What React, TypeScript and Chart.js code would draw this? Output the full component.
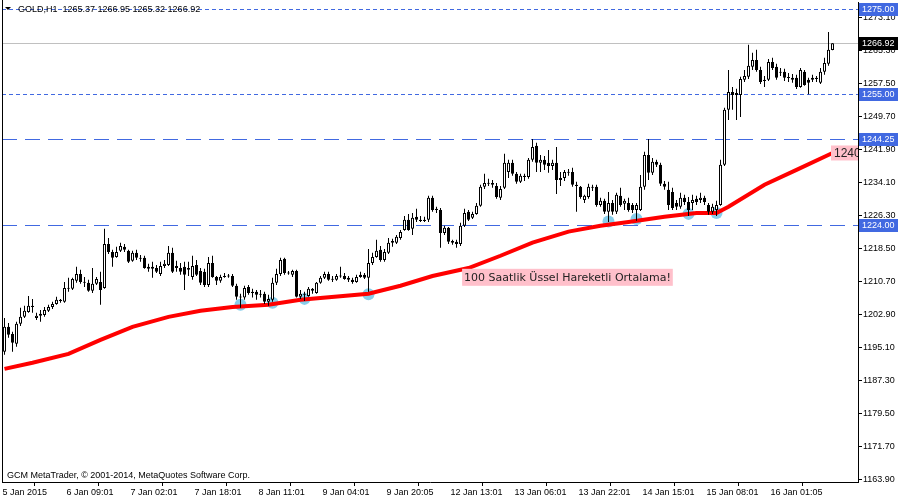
import React, { useEffect, useRef } from 'react';
import { Chart, registerables } from 'chart.js';

Chart.register(...registerables);

// ---------- DATA ----------
const opens = [
  1194.0, 1199.9, 1198.2, 1195.9, 1200.6, 1202.3, 1203.4, 1204.9, 1202.0, 1202.5,
  1202.7, 1203.7, 1204.6, 1205.3, 1206.3, 1205.8, 1209.1, 1208.9, 1210.8, 1212.4,
  1210.5, 1210.3, 1208.4, 1210.1, 1210.5, 1209.1, 1219.5, 1217.6, 1216.4, 1217.9,
  1218.8, 1217.9, 1215.5, 1217.4, 1216.2, 1216.2, 1214.1, 1213.6, 1213.8, 1212.4,
  1214.3, 1214.5, 1217.4, 1214.3, 1213.8, 1214.1, 1213.4, 1211.7, 1214.5, 1213.1,
  1212.9, 1209.8, 1215.0, 1211.7, 1210.8, 1211.7, 1211.9, 1211.9, 1209.6, 1207.0,
  1206.8, 1209.3, 1207.9, 1208.2, 1207.5, 1207.7, 1205.8, 1206.3, 1210.3, 1212.4,
  1216.0, 1212.6, 1212.2, 1213.1, 1207.0, 1207.7, 1207.2, 1208.9, 1207.9, 1210.3,
  1211.5, 1212.4, 1211.0, 1211.0, 1211.9, 1211.9, 1211.5, 1211.0, 1210.5, 1212.2,
  1212.2, 1211.5, 1215.0, 1216.4, 1218.1, 1215.7, 1217.4, 1220.2, 1219.8, 1220.9,
  1222.8, 1225.2, 1223.1, 1225.9, 1225.2, 1224.9, 1225.2, 1230.4, 1227.5, 1227.5,
  1222.1, 1223.3, 1220.2, 1220.0, 1219.5, 1223.8, 1227.1, 1225.7, 1226.6, 1228.5,
  1233.0, 1233.9, 1233.5, 1233.2, 1230.4, 1232.8, 1236.5, 1238.7, 1236.1, 1234.2,
  1235.3, 1235.3, 1239.4, 1242.7, 1238.7, 1239.4, 1238.7, 1237.9, 1238.7, 1235.1,
  1235.1, 1236.5, 1236.5, 1233.5, 1233.0, 1229.9, 1230.6, 1233.0, 1233.0, 1228.7,
  1229.7, 1227.1, 1229.2, 1227.1, 1230.9, 1229.0, 1229.2, 1228.7, 1227.5, 1227.5,
  1233.0, 1240.5, 1236.3, 1238.9, 1238.2, 1233.7, 1232.3, 1231.8, 1229.2, 1228.3,
  1230.4, 1229.4, 1229.2, 1230.2, 1229.9, 1230.4, 1228.7, 1227.1, 1227.5, 1228.7,
  1238.2, 1251.2, 1255.4, 1254.7, 1254.7, 1258.3, 1259.0, 1261.4, 1263.0, 1260.6,
  1258.0, 1258.3, 1262.5, 1261.4, 1260.2, 1260.2, 1258.8, 1258.8, 1258.8, 1256.6,
  1260.2, 1258.3, 1258.3, 1258.8, 1257.6, 1260.2, 1262.1, 1265.37,
];

const highs = [
  1202.0, 1200.8, 1198.7, 1201.1, 1204.4, 1204.9, 1207.2, 1206.5, 1203.2, 1203.9,
  1204.6, 1205.1, 1205.8, 1207.0, 1206.5, 1210.5, 1211.5, 1211.5, 1214.1, 1213.4,
  1211.7, 1211.0, 1213.8, 1211.7, 1212.9, 1223.1, 1220.9, 1218.1, 1218.8, 1219.8,
  1219.5, 1218.1, 1217.9, 1218.1, 1216.9, 1216.7, 1214.8, 1215.3, 1214.5, 1215.3,
  1215.7, 1219.0, 1218.6, 1215.5, 1215.0, 1215.3, 1215.3, 1216.7, 1215.7, 1213.8,
  1213.6, 1216.4, 1216.7, 1211.9, 1212.2, 1212.6, 1212.4, 1212.4, 1210.1, 1207.7,
  1209.6, 1209.8, 1208.9, 1208.6, 1208.6, 1208.2, 1207.5, 1211.5, 1213.6, 1216.2,
  1216.2, 1213.1, 1213.4, 1213.4, 1208.6, 1208.2, 1209.3, 1209.1, 1210.5, 1211.9,
  1212.9, 1212.9, 1211.9, 1212.4, 1214.1, 1212.6, 1211.9, 1211.5, 1212.2, 1212.9,
  1212.6, 1218.3, 1217.4, 1220.5, 1219.0, 1218.3, 1220.9, 1220.7, 1221.6, 1222.8,
  1226.1, 1226.6, 1226.8, 1227.8, 1226.1, 1225.9, 1230.9, 1230.9, 1228.3, 1228.0,
  1223.8, 1223.5, 1220.5, 1220.5, 1224.5, 1227.8, 1227.5, 1227.1, 1229.2, 1233.5,
  1236.1, 1234.9, 1234.6, 1233.9, 1233.2, 1240.8, 1239.4, 1239.4, 1236.5, 1236.1,
  1236.1, 1239.8, 1244.3, 1243.4, 1240.5, 1240.3, 1241.7, 1239.4, 1242.4, 1236.5,
  1237.0, 1237.2, 1237.5, 1234.2, 1233.2, 1231.1, 1233.7, 1233.5, 1233.5, 1230.4,
  1230.2, 1231.8, 1229.9, 1231.6, 1232.8, 1230.2, 1230.4, 1229.2, 1229.2, 1235.8,
  1241.3, 1244.3, 1239.8, 1239.4, 1238.7, 1234.4, 1234.2, 1232.8, 1229.9, 1231.6,
  1231.1, 1230.6, 1231.1, 1230.9, 1231.6, 1230.9, 1229.2, 1229.0, 1229.7, 1239.4,
  1251.7, 1260.6, 1256.6, 1256.2, 1259.0, 1260.6, 1266.6, 1264.7, 1265.4, 1261.4,
  1259.2, 1263.2, 1263.5, 1262.1, 1261.1, 1260.9, 1259.9, 1259.7, 1259.5, 1261.1,
  1260.6, 1258.8, 1259.5, 1259.2, 1261.1, 1263.5, 1269.6, 1266.95,
];

const lows = [
  1193.3, 1197.3, 1194.0, 1195.2, 1200.1, 1202.0, 1203.2, 1203.2, 1201.5, 1201.1,
  1202.3, 1203.4, 1204.1, 1205.1, 1205.6, 1205.6, 1208.2, 1208.6, 1210.3, 1210.1,
  1209.3, 1208.2, 1207.9, 1209.8, 1205.1, 1208.9, 1217.1, 1214.1, 1216.2, 1217.6,
  1217.6, 1215.0, 1215.3, 1215.7, 1215.3, 1213.6, 1212.9, 1211.5, 1212.6, 1211.9,
  1213.8, 1214.3, 1212.6, 1212.9, 1212.2, 1208.6, 1211.9, 1211.0, 1211.9, 1209.8,
  1209.3, 1209.3, 1211.5, 1209.8, 1210.3, 1211.5, 1211.5, 1209.3, 1206.3, 1204.4,
  1206.3, 1207.5, 1206.8, 1206.3, 1206.8, 1205.3, 1204.9, 1205.8, 1209.8, 1211.9,
  1212.2, 1212.2, 1211.7, 1206.8, 1206.5, 1206.0, 1207.0, 1207.7, 1207.7, 1210.1,
  1211.2, 1210.8, 1210.5, 1210.8, 1211.5, 1211.0, 1210.5, 1210.1, 1210.3, 1211.5,
  1211.2, 1208.2, 1214.5, 1216.2, 1215.3, 1215.3, 1217.1, 1218.8, 1219.5, 1220.5,
  1222.6, 1222.6, 1221.6, 1224.7, 1224.7, 1224.7, 1224.7, 1227.1, 1226.8, 1218.6,
  1221.6, 1219.5, 1219.3, 1218.6, 1219.0, 1223.5, 1224.9, 1225.4, 1226.4, 1228.3,
  1232.5, 1233.2, 1232.8, 1230.2, 1229.9, 1232.5, 1235.1, 1235.6, 1233.7, 1233.9,
  1234.4, 1234.9, 1238.9, 1236.5, 1236.5, 1237.0, 1236.3, 1237.0, 1231.3, 1233.2,
  1234.4, 1235.6, 1233.0, 1227.1, 1230.2, 1229.2, 1230.2, 1232.0, 1228.3, 1228.3,
  1226.6, 1224.7, 1226.4, 1226.6, 1228.3, 1227.5, 1227.1, 1226.8, 1225.0, 1227.3,
  1232.3, 1234.6, 1235.8, 1237.7, 1233.2, 1232.3, 1227.5, 1227.5, 1227.5, 1227.8,
  1228.7, 1226.1, 1227.5, 1228.7, 1229.2, 1228.7, 1226.4, 1226.6, 1226.1, 1228.5,
  1237.9, 1248.8, 1251.2, 1248.8, 1249.5, 1257.8, 1258.5, 1260.6, 1260.2, 1257.3,
  1256.6, 1258.0, 1260.6, 1258.3, 1259.2, 1258.0, 1257.8, 1257.6, 1256.1, 1256.4,
  1256.9, 1254.9, 1257.8, 1257.8, 1257.3, 1259.5, 1261.6, 1265.32,
];

const closes = [
  1199.9, 1198.0, 1196.1, 1200.6, 1202.3, 1203.7, 1204.9, 1204.6, 1202.5, 1203.0,
  1203.9, 1204.6, 1205.3, 1206.3, 1206.0, 1209.1, 1208.9, 1211.2, 1212.4, 1210.5,
  1210.3, 1208.4, 1210.1, 1211.2, 1208.6, 1219.5, 1217.6, 1216.2, 1217.6, 1219.0,
  1218.1, 1215.3, 1217.4, 1216.2, 1216.0, 1213.8, 1213.6, 1214.1, 1212.9, 1214.3,
  1214.8, 1217.4, 1212.9, 1213.8, 1212.9, 1212.2, 1213.8, 1214.3, 1212.2, 1210.3,
  1209.8, 1215.0, 1211.7, 1210.8, 1211.7, 1211.9, 1211.8, 1209.6, 1207.0, 1206.8,
  1209.1, 1207.9, 1208.2, 1207.5, 1207.7, 1205.8, 1206.5, 1210.3, 1212.4, 1215.7,
  1212.6, 1212.5, 1213.1, 1207.0, 1207.7, 1207.5, 1208.9, 1208.4, 1210.3, 1211.5,
  1212.4, 1211.0, 1211.2, 1211.9, 1211.8, 1211.2, 1211.0, 1210.5, 1211.7, 1211.7,
  1211.5, 1215.0, 1216.4, 1217.9, 1215.7, 1217.6, 1219.8, 1219.8, 1221.2, 1222.3,
  1225.2, 1222.8, 1225.7, 1225.2, 1224.9, 1225.2, 1230.4, 1227.5, 1227.8, 1222.1,
  1223.3, 1220.0, 1219.8, 1219.5, 1223.8, 1226.8, 1225.2, 1226.6, 1228.5, 1233.0,
  1233.9, 1233.7, 1233.9, 1230.6, 1232.5, 1238.7, 1238.7, 1236.1, 1234.2, 1235.6,
  1235.6, 1239.4, 1242.4, 1238.7, 1239.4, 1238.2, 1237.9, 1238.7, 1234.6, 1234.6,
  1236.5, 1236.3, 1233.5, 1233.2, 1230.6, 1230.9, 1233.0, 1232.8, 1228.7, 1229.7,
  1227.1, 1229.2, 1227.1, 1231.1, 1228.7, 1229.7, 1227.5, 1227.5, 1228.7, 1233.0,
  1240.5, 1236.3, 1238.9, 1238.2, 1233.7, 1233.0, 1228.7, 1228.0, 1228.3, 1230.4,
  1229.4, 1227.5, 1229.9, 1229.4, 1230.4, 1229.4, 1227.1, 1228.3, 1228.7, 1238.2,
  1251.2, 1255.4, 1254.7, 1255.2, 1258.5, 1259.2, 1261.6, 1263.0, 1260.6, 1257.8,
  1258.3, 1262.5, 1261.1, 1258.8, 1260.0, 1258.8, 1258.7, 1258.3, 1256.6, 1260.6,
  1257.1, 1257.6, 1258.8, 1258.5, 1260.2, 1262.3, 1265.4, 1266.92,
];

// 100-hour EMA read at selected bars
const maBars = [0, 7, 16, 24, 32, 41, 49, 57, 66, 74, 91, 99, 107, 116, 124, 132, 141, 149, 156, 165, 173, 178, 181, 190, 198, 207];
const maValues = [1189.95, 1191.4, 1193.5, 1196.8, 1199.9, 1202.25, 1203.7, 1204.6, 1205.1, 1206.3, 1207.7, 1209.6, 1211.9, 1213.8, 1216.7, 1219.8, 1222.4, 1223.8, 1224.7, 1225.9, 1226.8, 1226.8, 1228.3, 1233.5, 1237.0, 1241.0];
const maPriceLabel = '1240.97';

// touch markers (light blue dots)
const touchBars = [59, 67, 75, 91, 151, 158, 171, 178];
const touchPrices = [1205.1, 1205.6, 1206.5, 1207.6, 1224.8, 1225.4, 1226.6, 1226.8];

// horizontal levels
const dottedLevels = [1275.0, 1255.0];
const dashedLevels = [1244.25, 1224.0];

// axis labels
const timeTickBars = [0, 16, 32, 48, 64, 80, 96, 112, 128, 144, 160, 176, 192];
const timeLabels = ['5 Jan 2015', '6 Jan 09:01', '7 Jan 02:01', '7 Jan 18:01', '8 Jan 11:01', '9 Jan 04:01', '9 Jan 20:05', '12 Jan 13:01', '13 Jan 06:01', '13 Jan 22:01', '14 Jan 15:01', '15 Jan 08:01', '16 Jan 01:05'];
const priceTicks = [1163.9, 1171.7, 1179.5, 1187.3, 1195.1, 1202.9, 1210.7, 1218.5, 1226.3, 1234.1, 1241.9, 1249.7, 1257.5, 1265.3, 1273.1];

const headerText = 'GOLD,H1  1265.37 1266.95 1265.32 1266.92';
const copyrightText = 'GCM MetaTrader, © 2001-2014, MetaQuotes Software Corp.';
const noteText = '100 Saatlik Üssel Hareketli Ortalama!';

// ---------- STYLE / LAYOUT ----------
const X_MIN = -0.625;
const X_MAX = 213.375;
const Y_MIN = 1163.2;
const Y_MAX = 1276.7;
const NOTE_X = 114.4;
const NOTE_Y = 1211.6;
const BLUE = 'rgb(65,105,225)';
const FONT = '"Liberation Sans", Arial, sans-serif';

const levelsPlugin = {
  id: 'mtLevels',
  beforeDatasetsDraw(chart: any) {
    const { ctx, chartArea, scales } = chart;
    const ys = scales.y;
    const draw = (v: number, color: string, dash: number[]) => {
      const y = Math.round(ys.getPixelForValue(v)) + 0.5;
      ctx.save();
      ctx.strokeStyle = color;
      ctx.lineWidth = 1;
      ctx.setLineDash(dash);
      ctx.beginPath();
      ctx.moveTo(chartArea.left, y);
      ctx.lineTo(chartArea.right, y);
      ctx.stroke();
      ctx.restore();
    };
    draw(closes[closes.length - 1], 'rgb(192,192,192)', []);
    dottedLevels.forEach((v) => draw(v, BLUE, [4, 3]));
    dashedLevels.forEach((v) => draw(v, BLUE, [15, 8]));
  },
};

const overlayPlugin = {
  id: 'mtOverlay',
  afterDraw(chart: any) {
    const { ctx, chartArea, scales } = chart;
    const xs = scales.x;
    const ys = scales.y;
    ctx.save();
    // left border
    ctx.strokeStyle = '#000';
    ctx.lineWidth = 1;
    ctx.beginPath();
    ctx.moveTo(chartArea.left + 0.5, 0);
    ctx.lineTo(chartArea.left + 0.5, chartArea.bottom);
    ctx.stroke();

    // header
    ctx.fillStyle = '#000';
    ctx.beginPath();
    ctx.moveTo(5, 7);
    ctx.lineTo(11, 7);
    ctx.lineTo(8, 10);
    ctx.closePath();
    ctx.fill();
    ctx.font = '9px ' + FONT;
    ctx.textBaseline = 'middle';
    ctx.textAlign = 'left';
    ctx.fillText(headerText, 18, 9.5);
    ctx.fillText(copyrightText, 7, 475.5);

    // note label
    ctx.font = '11px "DejaVu Sans", sans-serif';
    const nx = xs.getPixelForValue(NOTE_X);
    const ny = ys.getPixelForValue(NOTE_Y);
    const tw = ctx.measureText(noteText).width;
    ctx.fillStyle = 'rgb(255,192,203)';
    ctx.fillRect(nx, ny - 8.5, tw + 4, 17);
    ctx.fillStyle = '#222';
    ctx.fillText(noteText, nx + 2, ny + 0.5);

    // MA price label (clipped)
    ctx.save();
    ctx.beginPath();
    ctx.rect(chartArea.left, chartArea.top, chartArea.right - chartArea.left, chartArea.bottom - chartArea.top);
    ctx.clip();
    const my = ys.getPixelForValue(maValues[maValues.length - 1]);
    ctx.fillStyle = 'rgb(255,192,203)';
    ctx.fillRect(831, my - 7.5, 60, 15);
    ctx.fillStyle = '#222';
    ctx.font = '12px ' + FONT;
    ctx.fillText(maPriceLabel, 834, my + 0.5);
    ctx.restore();

    // right price boxes
    ctx.font = '9px ' + FONT;
    const box = (v: number, bg: string) => {
      const y = Math.round(ys.getPixelForValue(v));
      ctx.fillStyle = bg;
      ctx.fillRect(chartArea.right + 1, y - 6, 39, 13);
      ctx.fillStyle = '#fff';
      ctx.fillText(v.toFixed(2), chartArea.right + 4, y + 0.5);
    };
    dottedLevels.forEach((v) => box(v, BLUE));
    dashedLevels.forEach((v) => box(v, BLUE));
    box(closes[closes.length - 1], '#000');
    ctx.restore();
  },
};

export default function App() {
  const ref = useRef<HTMLCanvasElement>(null);

  useEffect(() => {
    document.body.style.margin = '0';
    const idx = opens.map((_, i) => i);
    const wickData = idx.map((i) => ({ x: i, y: [lows[i], highs[i]] }));
    const bodyData = idx.map((i) => ({ x: i, y: [opens[i], closes[i]] }));
    const bodyFill = idx.map((i) => (closes[i] >= opens[i] ? '#ffffff' : '#000000'));
    const maData = maBars.map((b, i) => ({ x: b, y: maValues[i] }));
    const touchData = touchBars.map((b, i) => ({ x: b, y: touchPrices[i] }));

    const chart = new Chart(ref.current as HTMLCanvasElement, {
      type: 'bar',
      data: {
        datasets: [
          {
            type: 'bar',
            data: bodyData as any,
            backgroundColor: bodyFill,
            borderColor: '#000',
            borderWidth: 1,
            borderSkipped: false,
            barThickness: 3,
            minBarLength: 1,
            grouped: false,
            inflateAmount: 0,
            order: 0,
          } as any,
          {
            type: 'bar',
            data: wickData as any,
            backgroundColor: '#000',
            borderWidth: 0,
            barThickness: 1,
            grouped: false,
            inflateAmount: 0,
            order: 1,
          } as any,
          {
            type: 'line',
            data: maData,
            borderColor: '#ff0000',
            borderWidth: 4,
            pointRadius: 0,
            tension: 0,
            order: 2,
          } as any,
          {
            type: 'line',
            data: touchData,
            showLine: false,
            pointRadius: 6,
            pointBackgroundColor: 'rgb(135,206,235)',
            pointBorderWidth: 0,
            order: 3,
          } as any,
        ] as any,
      },
      options: {
        responsive: false,
        animation: false,
        events: [],
        layout: { autoPadding: false, padding: { left: 2, top: 2, right: 0, bottom: 0 } },
        plugins: { legend: { display: false }, tooltip: { enabled: false } },
        font: { family: FONT, size: 9 },
        scales: {
          x: {
            type: 'linear',
            min: X_MIN,
            max: X_MAX,
            offset: false,
            bounds: 'data',
            grid: { display: true, drawOnChartArea: false, drawTicks: true, tickLength: 4, color: '#000' },
            border: { display: true, color: '#000' },
            ticks: {
              autoSkip: false,
              maxRotation: 0,
              align: 'start',
              padding: 1,
              color: '#000',
              font: { family: FONT, size: 9 },
              callback: (_v: any, i: number) => timeLabels[i],
            },
            afterBuildTicks: (scale: any) => {
              scale.ticks = timeTickBars.map((b) => ({ value: b - 0.5 }));
            },
            afterFit: (scale: any) => {
              scale.height = 18;
              scale.paddingLeft = 0;
              scale.paddingRight = 0;
            },
          },
          y: {
            type: 'linear',
            position: 'right',
            min: Y_MIN,
            max: Y_MAX,
            bounds: 'data',
            grid: { display: true, drawOnChartArea: false, drawTicks: true, tickLength: 4, color: '#000' },
            border: { display: true, color: '#000' },
            ticks: {
              autoSkip: false,
              padding: 1,
              color: '#000',
              font: { family: FONT, size: 9 },
              callback: (v: any) => Number(v).toFixed(2),
            },
            afterBuildTicks: (scale: any) => {
              scale.ticks = priceTicks.map((v) => ({ value: v }));
            },
            afterFit: (scale: any) => {
              scale.width = 42;
              scale.paddingTop = 0;
              scale.paddingBottom = 0;
            },
          },
        },
      } as any,
      plugins: [levelsPlugin, overlayPlugin],
    });
    return () => chart.destroy();
  }, []);

  return (
    <div style={{ width: 900, height: 500, background: '#fff' }}>
      <canvas ref={ref} width={900} height={500} style={{ display: 'block' }} />
    </div>
  );
}
